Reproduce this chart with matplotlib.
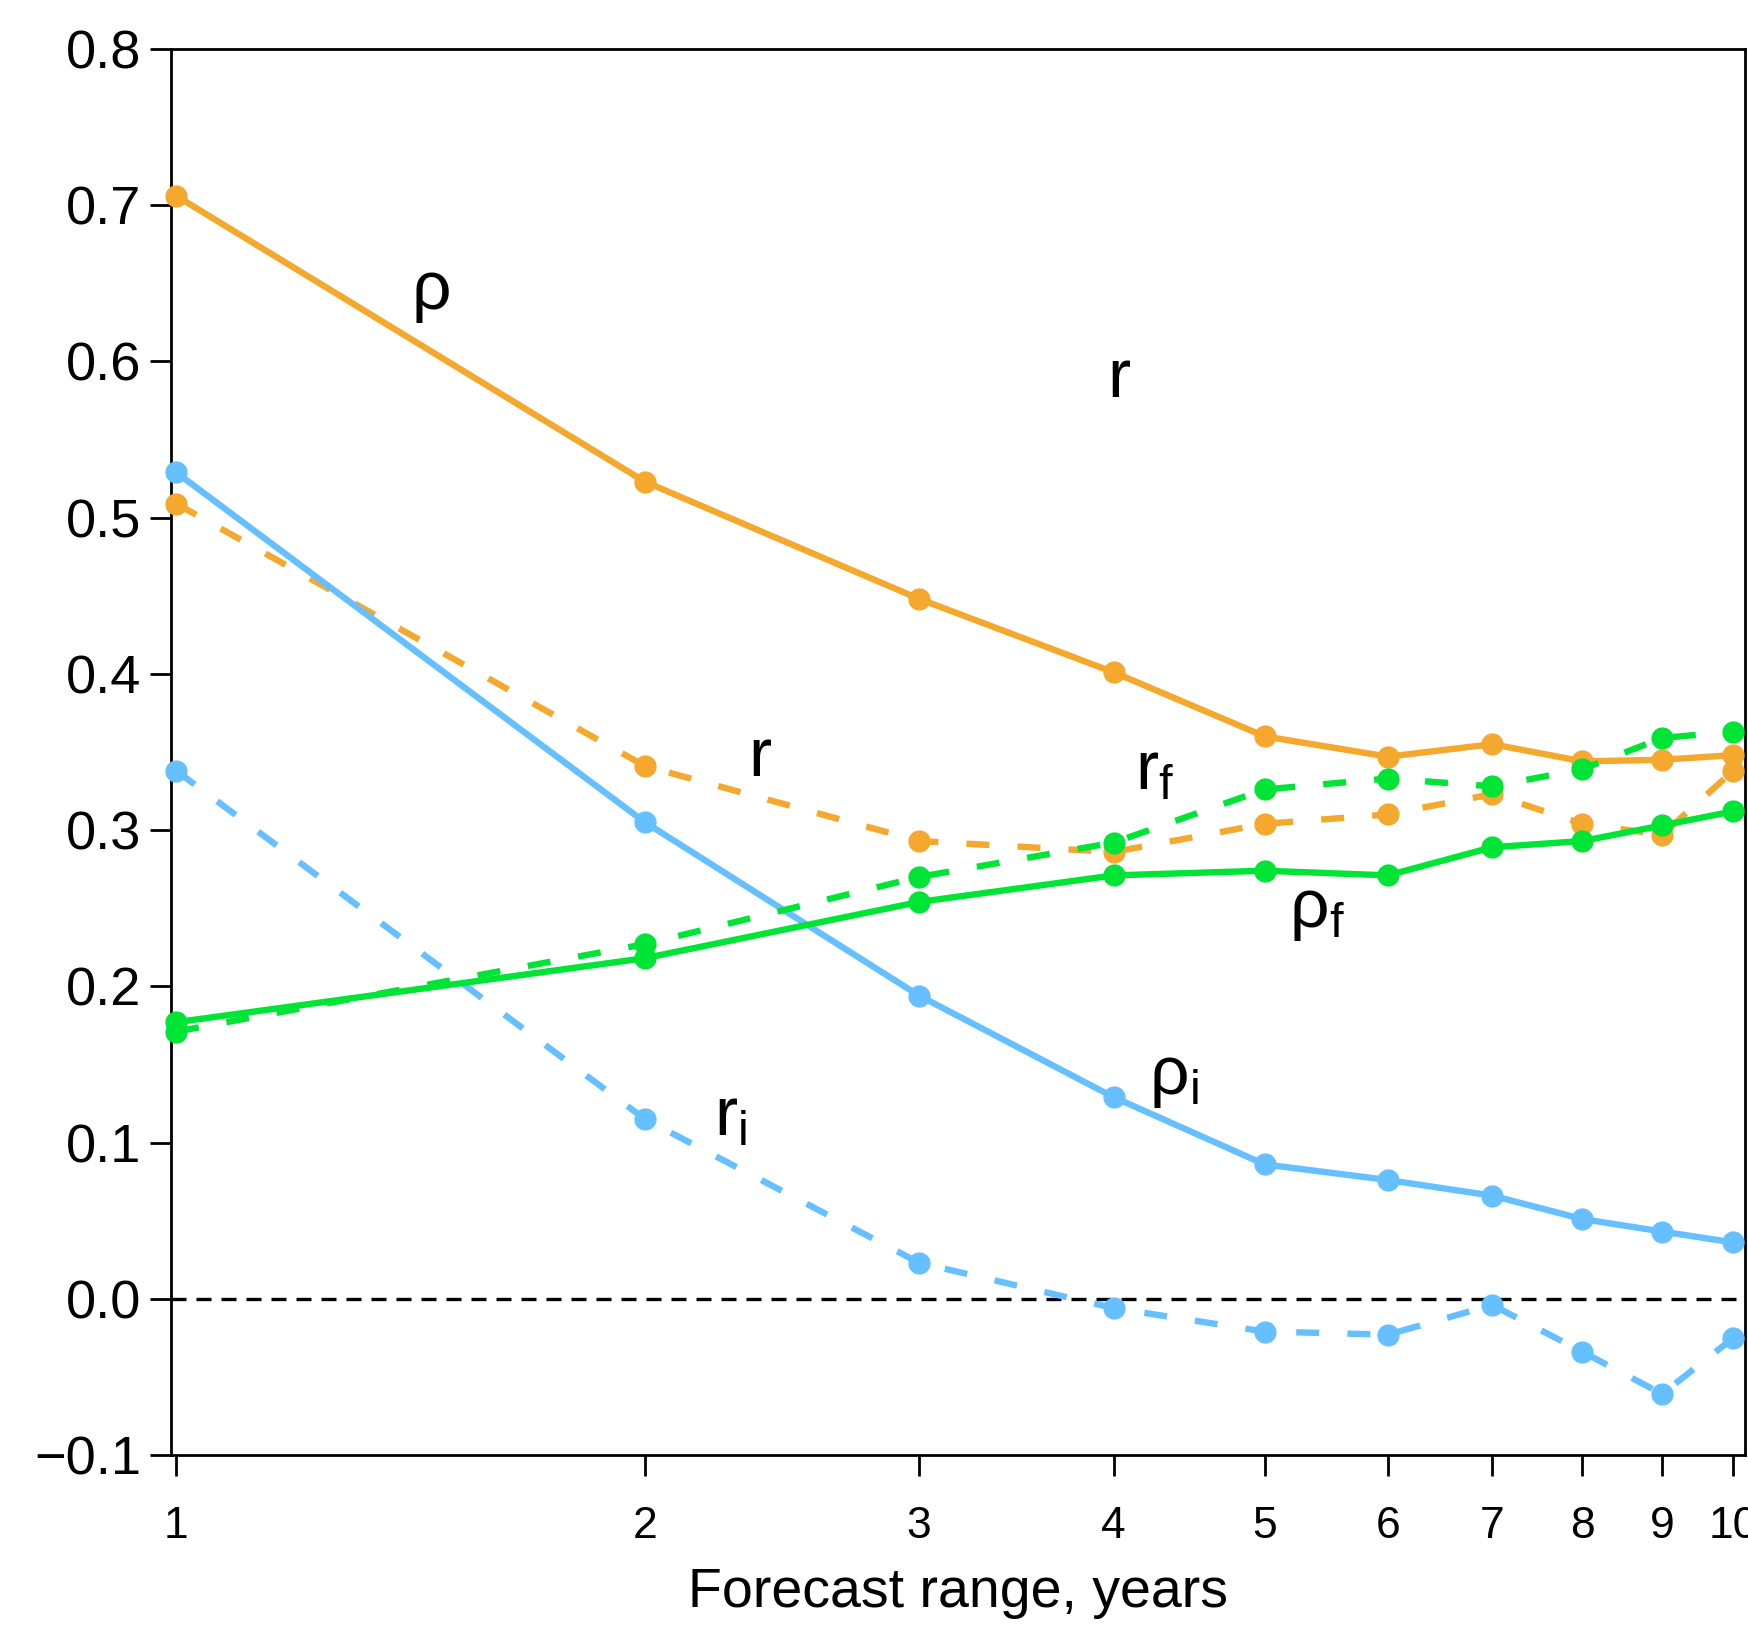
import matplotlib
matplotlib.use("Agg")
import matplotlib.pyplot as plt

plt.rcParams['font.family'] = ['Liberation Sans', 'DejaVu Sans']

years = [1, 2, 3, 4, 5, 6, 7, 8, 9, 10]
rho = [0.706, 0.523, 0.448, 0.401, 0.360, 0.347, 0.355, 0.344, 0.345, 0.348]
r = [0.509, 0.341, 0.293, 0.286, 0.304, 0.310, 0.323, 0.304, 0.297, 0.338]
rho_f = [0.177, 0.218, 0.254, 0.271, 0.274, 0.271, 0.289, 0.293, 0.303, 0.312]
r_f = [0.171, 0.227, 0.270, 0.292, 0.326, 0.333, 0.328, 0.339, 0.359, 0.363]
rho_i = [0.529, 0.305, 0.194, 0.129, 0.086, 0.076, 0.066, 0.051, 0.043, 0.036]
r_i = [0.338, 0.115, 0.023, -0.006, -0.021, -0.023, -0.004, -0.034, -0.061, -0.025]

yticks = [-0.1, 0.0, 0.1, 0.2, 0.3, 0.4, 0.5, 0.6, 0.7, 0.8]
ytick_labels = ['\u22120.1', '0.0', '0.1', '0.2', '0.3', '0.4', '0.5', '0.6', '0.7', '0.8']
xticks = years
xtick_labels = ['1', '2', '3', '4', '5', '6', '7', '8', '9', '10']

labels = [
    ('$\\mathregular{\u03c1}$', 1.457, 0.644),
    ('$\\mathregular{r}$', 4.03, 0.589),
    ('$\\mathregular{r}$', 2.37, 0.346),
    ('$\\mathregular{r_f}$', 4.25, 0.338),
    ('$\\mathregular{\u03c1_f}$', 5.40, 0.248),
    ('$\\mathregular{\u03c1_i}$', 4.37, 0.141),
    ('$\\mathregular{r_i}$', 2.27, 0.116),
]

ORANGE = '#F5A82E'
BLUE = '#66C0FF'
GREEN = '#00E436'

fig = plt.figure(figsize=(17.49, 16.28), dpi=100)
ax = fig.add_axes([0.0976, 0.1063, 0.900, 0.8636])

lw = 4.6
ms = 15
dash = (3.6, 4.4)

ax.axhline(0.0, color='black', lw=2.4, linestyle=(0, (4.5, 3)), zorder=1)

ax.plot(years, rho, color=ORANGE, lw=lw, marker='o', ms=ms, zorder=3, clip_on=False)
ax.plot(years, r, color=ORANGE, lw=lw, marker='o', ms=ms, linestyle=(0, dash), zorder=3, clip_on=False)
ax.plot(years, rho_i, color=BLUE, lw=lw, marker='o', ms=ms, zorder=3, clip_on=False)
ax.plot(years, r_i, color=BLUE, lw=lw, marker='o', ms=ms, linestyle=(0, dash), zorder=3, clip_on=False)
ax.plot(years, rho_f, color=GREEN, lw=lw, marker='o', ms=ms, zorder=4, clip_on=False)
ax.plot(years, r_f, color=GREEN, lw=lw, marker='o', ms=ms, linestyle=(0, dash), zorder=4, clip_on=False)

for txt, x, y in labels:
    ax.text(x, y, txt, fontsize=50, ha='center', va='center', color='black')

ax.set_xscale('log')
ax.set_xlim(0.992, 10.17)
ax.set_ylim(-0.1, 0.8)

ax.set_xticks(xticks)
ax.set_xticklabels(xtick_labels, fontsize=32)
ax.minorticks_off()
ax.set_yticks(yticks)
ax.set_yticklabels(ytick_labels, fontsize=39)

ax.tick_params(axis='x', direction='out', length=15, width=2, pad=22)
ax.tick_params(axis='y', direction='out', length=15, width=2, pad=6)
for s in ax.spines.values():
    s.set_linewidth(2)

ax.set_xlabel('Forecast range, years', fontsize=40, labelpad=14)

fig.savefig('out.png', dpi=100)
